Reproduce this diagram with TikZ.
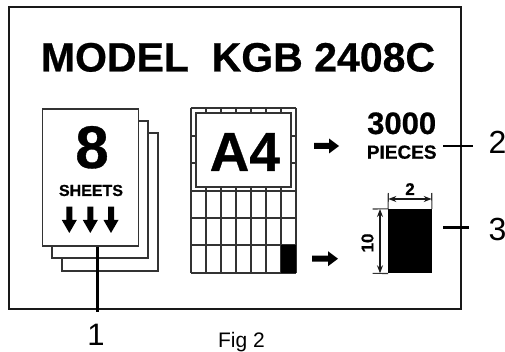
\documentclass[tikz,border=0pt]{standalone}
\usepackage{fontspec}
\setmainfont[BoldFeatures={FakeBold=0.6}]{Liberation Sans}
\usetikzlibrary{arrows.meta}
\tikzset{
  thickline/.style={line width=1.8pt,draw=black!80},
  sheet/.style={thickline,fill=white,inner sep=0pt,minimum width=#1},
  txt/.style={inner sep=0pt,anchor=base,text=black},
  bold/.style={txt,font=\bfseries},
  leader/.style={line width=2.4pt,draw=black},
  dim/.style={line width=1.1pt,draw=black!90,{Stealth[length=8pt,width=6pt]}-{Stealth[length=8pt,width=6pt]}},
  ext/.style={line width=1.1pt,draw=black!80},
  grid line/.style={line width=1.8pt,draw=black!80}
}
\newcommand{\fs}[1]{\fontsize{#1pt}{#1pt}\selectfont}
\newcommand{\fatarrow}[3]{% tail x, tip x, y
  \fill[black] (#1,#3-3) -- (#2-10,#3-3) -- (#2-10,#3-7.5) -- (#2,#3) -- (#2-10,#3+7.5) -- (#2-10,#3+3) -- (#1,#3+3) -- cycle;}
\newcommand{\downarrowfat}[3]{% x, top y, tip y
  \fill[black] (#1-3,#2) -- (#1+3,#2) -- (#1+3,#3-13) -- (#1+7.5,#3-13) -- (#1,#3) -- (#1-7.5,#3-13) -- (#1-3,#3-13) -- cycle;}
\begin{document}
\begin{tikzpicture}[x=1pt,y=-1pt]
\useasboundingbox (0,0) rectangle (505,352);
\fill[white] (0,0) rectangle (505,352);
% frame
\node[draw=black!90,line width=2pt,inner sep=0pt,minimum width=452.5pt,minimum height=302pt] (frame) at (234.75,158) {};
% title
\node[bold,font=\bfseries\fs{41}] (title) at (238,71.5) {MODEL\ \ KGB 2408C};
% leader 1 under the sheets
\coordinate (end1) at (97.5,312);
% sheets
\node[sheet=96pt,minimum height=138pt] (sheetC) at (109.7,202) {};
\node[sheet=96pt,minimum height=137pt] (sheetB) at (100,189.5) {};
\node[sheet=96pt,minimum height=137pt] (sheetA) at (90.5,177.3) {};
\draw[leader] (sheetA.south -| end1) -- (end1);
\node[bold,font=\bfseries\fs{60}] (eight) at (92,168) {8};
\node[bold,font=\bfseries\fs{16}] (sheets) at (91,196) {SHEETS};
\downarrowfat{69.3}{206.7}{233}
\downarrowfat{90.3}{206.7}{233}
\downarrowfat{111}{206.7}{233}
% grid
\foreach \x in {190.7,205.9,221.0,235.7,250.7,265.7,280.7,296}{
  \draw[grid line] (\x,108) -- (\x,273);}
\foreach \y in {108,190.7,218,245,273}{
  \draw[grid line] (190.7,\y) -- (296,\y);}
\foreach \y in {135.7,162.7}{
  \draw[grid line] (190.7,\y) -- (296,\y);}
\fill[black] (280.7,245) rectangle (296,273);
\node[thickline,fill=white,inner sep=0pt,minimum width=95.3pt,minimum height=73.7pt] (afour) at (243.3,149.9) {};
\node[bold,font=\bfseries\fs{55}] (a4) at (244.8,171) {A4};
% arrows
\fatarrow{314}{339}{146}
\fatarrow{312}{338}{258.7}
% right texts
\node[bold,font=\bfseries\fs{31}] (qty) at (401.7,134) {3000};
\node[bold,font=\bfseries\fs{19}] (pieces) at (401.7,158.7) {PIECES};
% black piece
\node[fill=black,inner sep=0pt,minimum width=43.4pt,minimum height=64.3pt] (piece) at (410,241.2) {};
\coordinate (eTL) at (388.3,193); \coordinate (eTR) at (431.7,193);
\draw[ext] (eTL) -- (piece.north west);
\draw[ext] (eTR) -- (piece.north east);
\coordinate (dL) at (388.3,199); \coordinate (dR) at (431.7,199);
\draw[dim] (dL) -- (dR);
\node[bold,font=\bfseries\fs{17}] (w) at (410,195) {2};
\coordinate (eLT) at (372.7,209); \coordinate (eLB) at (372.7,273.3);
\draw[ext] (eLT) -- (piece.north west);
\draw[ext] (eLB) -- (piece.south west);
\coordinate (dT) at (380,209); \coordinate (dB) at (380,273.3);
\draw[dim] (dT) -- (dB);
\node[bold,font=\bfseries\fs{17},rotate=90,anchor=center] (h) at (367.5,243) {10};
% leaders and callouts
\coordinate (s2) at (443,146); \coordinate (e2) at (472.7,146);
\draw[leader] (s2) -- (e2);
\coordinate (s3) at (443,227.7); \coordinate (e3) at (469,227.7);
\draw[leader] (s3) -- (e3);
\node[txt,font=\fs{31}] (n1) at (96,345.4) {1};
\node[txt,font=\fs{32}] (n2) at (497.5,154) {2};
\node[txt,font=\fs{32}] (n3) at (497.5,240.5) {3};
\node[txt,font=\fs{21}] (fig) at (241.5,347) {Fig 2};
\end{tikzpicture}
\end{document}
